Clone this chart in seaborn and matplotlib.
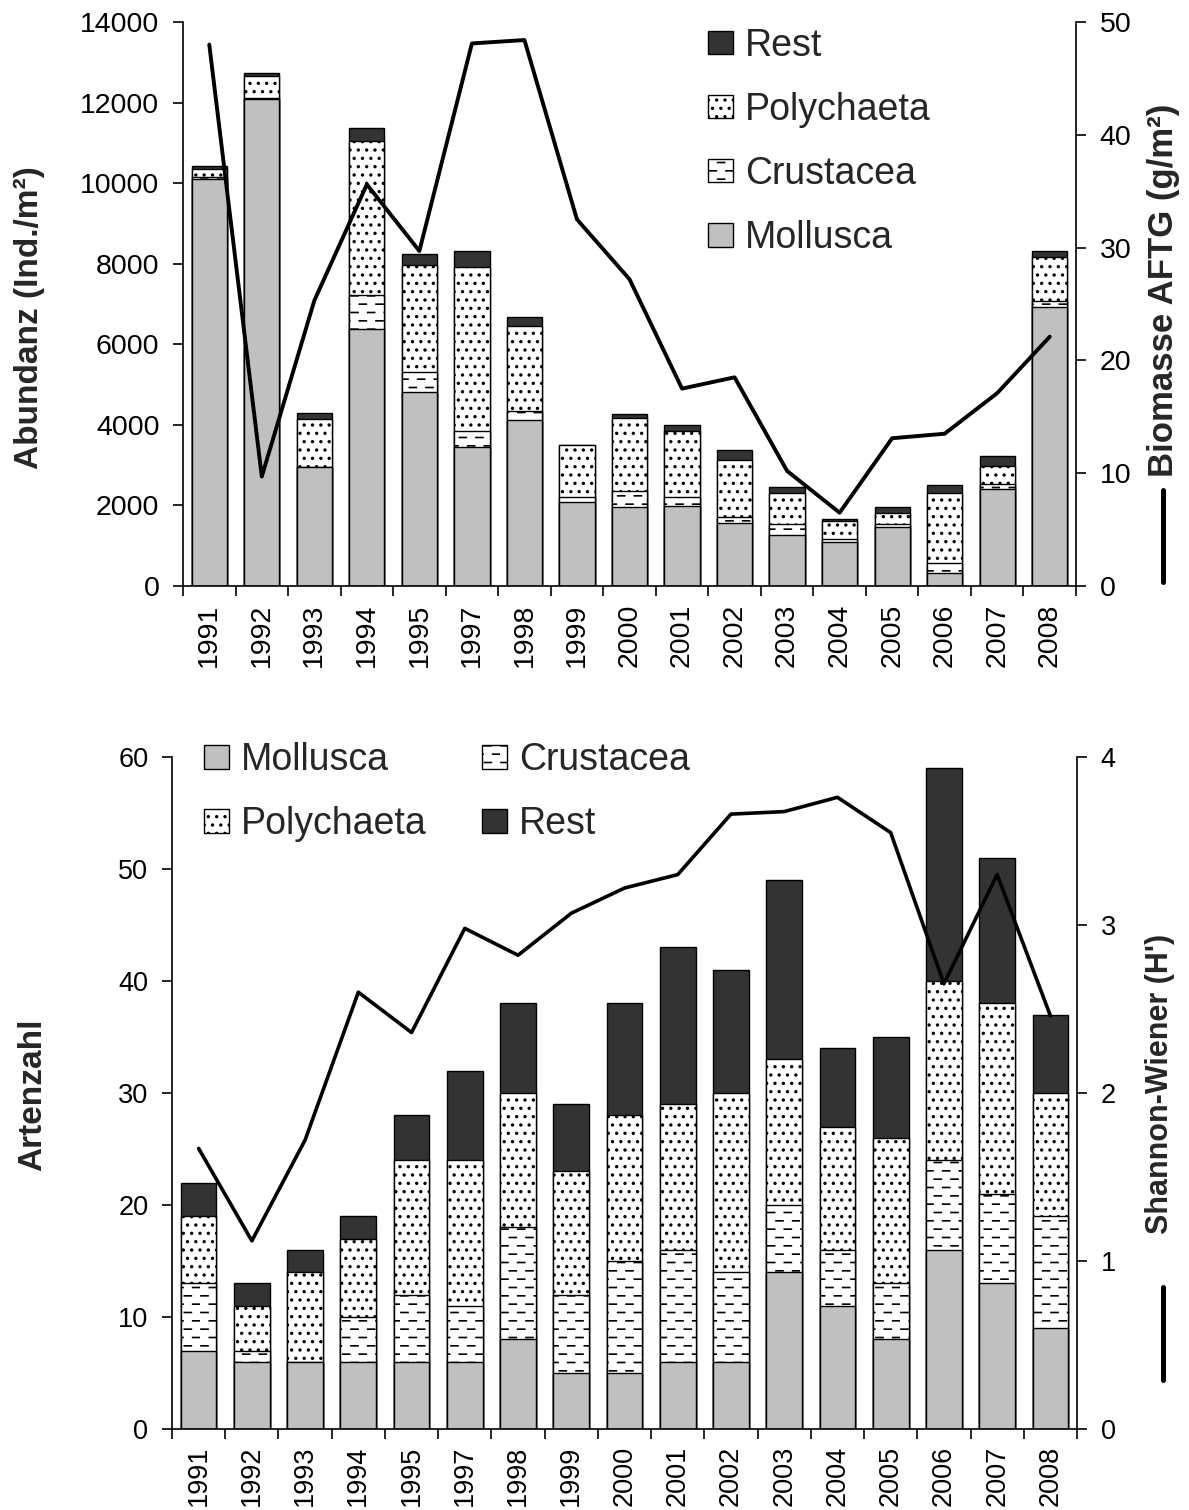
import numpy as np
import pandas as pd
import matplotlib
matplotlib.use("Agg")
import matplotlib.pyplot as plt
from matplotlib import hatch as mhatch
from matplotlib.path import Path
from matplotlib.patches import Patch
from matplotlib.lines import Line2D
import seaborn as sns

years = ['1991', '1992', '1993', '1994', '1995', '1997', '1998', '1999', '2000',
         '2001', '2002', '2003', '2004', '2005', '2006', '2007', '2008']

# Abundanz (Ind./m2)
abund_mollusca = [10100, 12100, 2950, 6370, 4810, 3450, 4125, 2090, 1950,
                  1980, 1570, 1255, 1085, 1475, 335, 2405, 6920]
abund_crustacea = [60, 10, 0, 850, 490, 400, 230, 125, 400,
                   230, 140, 285, 85, 65, 240, 135, 160]
abund_polychaeta = [180, 560, 1200, 3820, 2680, 4060, 2090, 1275, 1815,
                    1645, 1410, 760, 450, 270, 1730, 450, 1095]
abund_rest = [80, 70, 150, 330, 260, 410, 230, 0, 115,
              140, 250, 150, 50, 140, 190, 235, 140]
biomass = [48.0, 9.7, 25.3, 35.6, 29.7, 48.1, 48.4, 32.5, 27.2,
           17.5, 18.5, 10.2, 6.5, 13.1, 13.5, 17.1, 22.1]

# Artenzahl
art_mollusca = [7, 6, 6, 6, 6, 6, 8, 5, 5, 6, 6, 14, 11, 8, 16, 13, 9]
art_crustacea = [6, 1, 0, 4, 6, 5, 10, 7, 10, 10, 8, 6, 5, 5, 8, 8, 10]
art_polychaeta = [6, 4, 8, 7, 12, 13, 12, 11, 13, 13, 16, 13, 11, 13, 16, 17, 11]
art_rest = [3, 2, 2, 2, 4, 8, 8, 6, 10, 14, 11, 16, 7, 9, 19, 13, 7]
shannon = [1.67, 1.12, 1.72, 2.60, 2.36, 2.98, 2.82, 3.07, 3.22,
           3.30, 3.66, 3.675, 3.76, 3.55, 2.65, 3.30, 2.46]

groups = ['Mollusca', 'Crustacea', 'Polychaeta', 'Rest']
styles = {
    'Mollusca': dict(facecolor='#c0c0c0', hatch=None),
    'Crustacea': dict(facecolor='white', hatch='--'),
    'Polychaeta': dict(facecolor='white', hatch='..'),
    'Rest': dict(facecolor='#333333', hatch=None),
}


# Excel style crustacea fill: short staggered dashes instead of full lines
class DashHatch(mhatch.HatchPatternBase):
    def __init__(self, hatch, density):
        self.num_rows = hatch.count('-') * density
        self.per_row = 6
        self.num_vertices = self.num_rows * self.per_row * 2

    def set_vertices_and_codes(self, vertices, codes):
        step = 1.0 / self.per_row
        i = 0
        for r in range(self.num_rows):
            y = (r + 0.5) / self.num_rows
            shift = step / 2 if r % 2 else 0.0
            for c in range(self.per_row):
                x0 = c * step + shift + 0.01
                vertices[i] = (x0, y)
                vertices[i + 1] = (x0 + 0.07, y)
                codes[i] = Path.MOVETO
                codes[i + 1] = Path.LINETO
                i += 2


mhatch._hatch_types[0] = DashHatch

sns.set_style("ticks")
plt.rcParams['font.family'] = ['Liberation Sans', 'DejaVu Sans']
plt.rcParams['hatch.linewidth'] = 1.2
plt.rcParams['axes.linewidth'] = 1.2
plt.rcParams['axes.edgecolor'] = 'black'
plt.rcParams['xtick.color'] = 'black'
plt.rcParams['ytick.color'] = 'black'

W, H = 1189, 1510
fig = plt.figure(figsize=(W / 100, H / 100), dpi=100)
ax_top = fig.add_axes([183 / W, 1 - 586 / H, (1076 - 183) / W, (586 - 22) / H])
ax_bot = fig.add_axes([172 / W, 1 - 1429 / H, (1077 - 172) / W, (1429 - 757) / H])

pos = np.arange(len(years))


def stacked_bars(ax, values):
    df = pd.DataFrame(values, columns=groups)
    cum = df.cumsum(axis=1)
    # draw cumulative totals from the top group down, each one covering the rest
    for g in reversed(groups):
        sns.barplot(x=pos, y=cum[g].values, ax=ax, color=styles[g]['facecolor'],
                    hatch=styles[g]['hatch'], edgecolor='black', linewidth=1.0,
                    width=0.67, saturation=1, errorbar=None)


def style_axes(ax, ax2, ymax, ystep, y2max, y2step, fs, xpad):
    ax.set_xlim(-0.5, len(years) - 0.5)
    ax.set_ylim(0, ymax)
    ax.set_yticks(np.arange(0, ymax + 1, ystep))
    ax2.set_ylim(0, y2max)
    ax2.set_yticks(np.arange(0, y2max + 0.01, y2step))
    ax.set_xticks(pos)
    ax.set_xticklabels(years, rotation=90)
    ax.set_xticks(np.arange(-0.5, len(years), 1), minor=True)
    ax.tick_params(axis='x', which='major', length=0, pad=xpad, labelsize=fs)
    ax.tick_params(axis='x', which='minor', length=7, width=1.2, direction='out')
    ax.tick_params(axis='y', length=7, width=1.2, pad=10, labelsize=fs)
    ax2.tick_params(axis='y', length=7, width=1.2, pad=10, labelsize=fs)
    for a in (ax, ax2):
        a.set_xlabel('')
        a.set_ylabel('')
    ax.spines['top'].set_visible(False)
    ax.spines['right'].set_visible(False)
    for s in ('top', 'left', 'bottom'):
        ax2.spines[s].set_visible(False)
    ax2.spines['right'].set_visible(True)


def handle(g):
    return Patch(facecolor=styles[g]['facecolor'], hatch=styles[g]['hatch'],
                 edgecolor='black', linewidth=1.0, label=g)


leg_kw = dict(frameon=False, fontsize=27, handlelength=0.67, handleheight=0.59,
              handletextpad=0.32, labelspacing=0.75, borderpad=0, borderaxespad=0)

# --- top: Abundanz + Biomasse
stacked_bars(ax_top, np.column_stack([abund_mollusca, abund_crustacea,
                                      abund_polychaeta, abund_rest]))
ax_top2 = ax_top.twinx()
sns.lineplot(x=pos, y=biomass, ax=ax_top2, color='black', linewidth=2.8)
style_axes(ax_top, ax_top2, 14000, 2000, 50, 10, 20.5, 13)
ax_top2.legend(handles=[handle(g) for g in reversed(groups)], loc='upper left',
               bbox_to_anchor=(0.588, 0.99), **leg_kw)
ax_top2.add_line(Line2D([1.0974, 1.0974], [0.007, 0.170], transform=ax_top2.transAxes,
                        color='black', linewidth=3.6, clip_on=False))

# --- bottom: Artenzahl + Shannon-Wiener
stacked_bars(ax_bot, np.column_stack([art_mollusca, art_crustacea,
                                      art_polychaeta, art_rest]))
ax_bot2 = ax_bot.twinx()
sns.lineplot(x=pos, y=shannon, ax=ax_bot2, color='black', linewidth=2.6)
style_axes(ax_bot, ax_bot2, 60, 10, 4, 1, 19.5, 12)
# column-major fill: Mollusca/Polychaeta left, Crustacea/Rest right
ax_bot2.legend(handles=[handle(g) for g in ['Mollusca', 'Polychaeta', 'Crustacea', 'Rest']],
               loc='upper left', ncol=2, bbox_to_anchor=(0.0354, 1.022),
               columnspacing=1.47, **leg_kw)
ax_bot2.add_line(Line2D([1.095, 1.095], [0.073, 0.211], transform=ax_bot2.transAxes,
                        color='black', linewidth=3.6, clip_on=False))

lab = dict(rotation=90, ha='center', va='center', fontweight='bold')
fig.text(29 / W, 1 - 318 / H, 'Abundanz (Ind./m²)', fontsize=24, **lab)
fig.text(1163 / W, 1 - 290 / H, 'Biomasse AFTG (g/m²)', fontsize=25, **lab)
fig.text(33 / W, 1 - 1095 / H, 'Artenzahl', fontsize=24, **lab)
fig.text(1160 / W, 1 - 1084 / H, "Shannon-Wiener (H')", fontsize=22, **lab)

fig.savefig('out.png', dpi=100)
